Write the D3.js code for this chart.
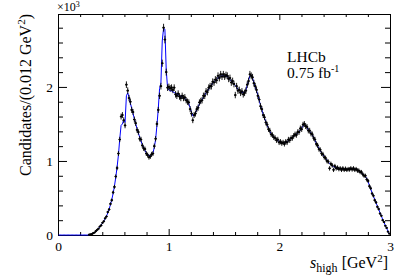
<!DOCTYPE html>
<html>
<head>
<meta charset="utf-8">
<script src="https://cdn.jsdelivr.net/npm/d3@7.9.0/dist/d3.min.js"></script>
<style>
  body { margin: 0; background: #fff; }
  svg text { font-family: "Liberation Serif", "DejaVu Serif", serif; fill: #000; }
</style>
</head>
<body>
<svg id="chart" width="411" height="280"></svg>
<script>
// bins of 0.012 GeV^2 from 0 to 3
const binWidth = 0.012;

// fit model, candidates per bin
const fitValues = [
  0,0,0,0,0,0,0,0,0,0,
  0,0,0,0,0,0,0,0,0,0,
  0,0,0,3,8,14,22,35,50,68,
  88,110,135,160,188,220,255,300,350,410,
  480,560,660,780,920,1080,1300,1480,1500,1560,
  1520,1880,1920,1860,1780,1710,1640,1570,1500,1440,
  1380,1320,1270,1220,1180,1140,1110,1090,1075,1070,
  1080,1110,1180,1290,1480,1700,1980,2050,2620,2790,
  2780,2230,1990,1960,1950,1945,1935,1925,1915,1905,
  1895,1885,1875,1865,1855,1845,1830,1805,1770,1720,
  1660,1610,1610,1650,1690,1730,1770,1800,1830,1860,
  1890,1920,1945,1970,2000,2025,2050,2070,2090,2110,
  2125,2135,2145,2150,2150,2150,2145,2135,2120,2100,
  2080,2060,2040,2020,1995,1970,1950,1935,1925,1920,
  1930,1960,2020,2090,2150,2160,2120,2060,2000,1950,
  1890,1820,1750,1690,1630,1580,1530,1480,1440,1400,
  1370,1345,1325,1305,1290,1275,1265,1255,1250,1245,
  1245,1250,1260,1275,1290,1305,1320,1335,1350,1360,
  1375,1395,1420,1445,1470,1490,1480,1450,1420,1400,
  1380,1350,1320,1280,1240,1200,1170,1140,1110,1085,
  1060,1035,1010,985,965,950,935,925,915,910,
  905,900,895,893,890,888,887,887,888,890,
  892,893,893,890,885,878,868,855,840,825,
  810,790,760,720,670,620,570,525,480,435,
  390,345,300,255,210,170,130,90,50,15
];

// data, candidates per bin
const dataValues = [
  0,0,0,0,0,0,0,0,0,0,
  0,0,0,0,0,0,0,0,0,0,
  0,0,0,4,9,12,25,33,52,70,
  85,115,130,165,185,225,250,310,345,420,
  470,575,650,790,905,1100,1290,1600,1620,1550,
  1480,2030,1950,1850,1800,1690,1660,1560,1510,1420,
  1390,1300,1290,1210,1170,1160,1100,1080,1050,1060,
  1090,1100,1200,1300,1500,1690,1880,2010,2320,2800,
  2640,2200,1990,2000,1980,1990,1960,1990,1900,1880,
  1910,1870,1850,1880,1850,1860,1820,1800,1790,1700,
  1640,1550,1620,1640,1700,1720,1790,1810,1820,1880,
  1880,1940,1930,1990,2010,2010,2070,2060,2100,2090,
  2150,2120,2170,2140,2170,2140,2160,2150,2110,2120,
  2060,2080,2040,1890,2010,1950,1960,1920,1940,1900,
  1920,1950,2030,2080,2170,2150,2130,2050,2010,1960,
  1880,1830,1740,1700,1620,1590,1520,1490,1430,1410,
  1360,1350,1320,1310,1280,1290,1250,1260,1240,1250,
  1230,1260,1250,1290,1280,1310,1310,1340,1360,1350,
  1390,1390,1440,1430,1490,1500,1470,1460,1410,1410,
  1370,1360,1310,1290,1230,1210,1160,1150,1100,1090,
  1050,1040,1000,990,900,960,940,880,930,900,
  910,890,900,880,900,880,895,880,890,885,
  900,885,900,880,890,870,870,850,850,820,
  800,800,750,730,660,630,560,530,470,440,
  380,350,290,260,200,175,125,95,45,18
];

const xMajor = [0, 1, 2, 3];
const xMinor = [0.2, 0.4, 0.6, 0.8, 1.2, 1.4, 1.6, 1.8, 2.2, 2.4, 2.6, 2.8];
const yMajor = [0, 1000, 2000];
const yMinor = [200, 400, 600, 800, 1200, 1400, 1600, 1800, 2200, 2400, 2600, 2800];

const svg = d3.select('#chart');
const padL = 58, padR = 390, padT = 14, padB = 235;

const x = d3.scaleLinear().domain([0, 3]).range([padL, padR]);
const y = d3.scaleLinear().domain([0, 2985]).range([padB, padT]);

const center = (i) => (i + 0.5) * binWidth;

// axes (ticks pointing inwards, ROOT style)
function addAxis(axis, tx, ty, labels) {
  let g = svg.append('g').attr('transform', `translate(${tx},${ty})`).call(axis);
  g.select('.domain').remove();
  g.selectAll('line').attr('stroke', '#000');
  if (!labels) g.selectAll('text').remove();
  return g;
}

let bx = addAxis(d3.axisBottom(x).tickValues(xMajor).tickSize(-6).tickPadding(6).tickFormat(d3.format('d')), 0, padB, true);
bx.selectAll('text').attr('font-size', 13.5).attr('font-family', '"Liberation Serif", serif');
addAxis(d3.axisBottom(x).tickValues(xMinor).tickSize(-3), 0, padB, false);
addAxis(d3.axisTop(x).tickValues(xMajor).tickSize(-6), 0, padT, false);
addAxis(d3.axisTop(x).tickValues(xMinor).tickSize(-3), 0, padT, false);

let ly = addAxis(d3.axisLeft(y).tickValues(yMajor).tickSize(-9).tickPadding(5).tickFormat((d) => d / 1000), padL, 0, true);
ly.selectAll('text').attr('font-size', 13.5).attr('font-family', '"Liberation Serif", serif');
addAxis(d3.axisLeft(y).tickValues(yMinor).tickSize(-5), padL, 0, false);
addAxis(d3.axisRight(y).tickValues(yMajor).tickSize(-9), padR, 0, false);
addAxis(d3.axisRight(y).tickValues(yMinor).tickSize(-5), padR, 0, false);

svg.append('rect')
  .attr('x', padL + 0.5).attr('y', padT + 0.5)
  .attr('width', padR - padL).attr('height', padB - padT)
  .attr('fill', 'none').attr('stroke', '#000').attr('stroke-width', 1);

// fit curve
let fitLine = d3.line()
  .x((d, i) => x(center(i)))
  .y((d) => y(d));
svg.append('path')
  .datum(fitValues)
  .attr('d', fitLine)
  .attr('fill', 'none')
  .attr('stroke', '#0000ff')
  .attr('stroke-width', 1);

// data points with sqrt(N) errors
let pts = dataValues.map((v, i) => ({ s: center(i), v: v })).filter((d) => d.v > 0);
let dg = svg.append('g');
dg.selectAll('line.err')
  .data(pts)
  .join('line')
  .attr('class', 'err')
  .attr('x1', (d) => x(d.s)).attr('x2', (d) => x(d.s))
  .attr('y1', (d) => y(d.v + Math.sqrt(d.v)))
  .attr('y2', (d) => y(d.v - Math.sqrt(d.v)))
  .attr('stroke', '#000').attr('stroke-width', 0.9);
dg.selectAll('line.bin')
  .data(pts)
  .join('line')
  .attr('class', 'bin')
  .attr('x1', (d) => x(d.s - binWidth / 2) - 0.6).attr('x2', (d) => x(d.s + binWidth / 2) + 0.6)
  .attr('y1', (d) => y(d.v)).attr('y2', (d) => y(d.v))
  .attr('stroke', '#000').attr('stroke-width', 0.9);
dg.selectAll('circle')
  .data(pts)
  .join('circle')
  .attr('cx', (d) => x(d.s)).attr('cy', (d) => y(d.v))
  .attr('r', 1.1).attr('fill', '#000');

// texts
let ttl = svg.append('text')
  .attr('transform', `translate(31,${padT}) rotate(-90)`)
  .attr('text-anchor', 'end')
  .attr('font-size', 16);
ttl.append('tspan').text('Candidates/(0.012 GeV');
ttl.append('tspan').attr('font-size', 11).attr('dy', -6).text('2');
ttl.append('tspan').attr('dy', 6).text(')');

let xt = svg.append('text')
  .attr('x', 388).attr('y', 268)
  .attr('text-anchor', 'end')
  .attr('font-size', 16);
xt.append('tspan').attr('font-style', 'italic').text('s');
xt.append('tspan').attr('font-size', 12).attr('dy', 4).text('high');
xt.append('tspan').attr('dy', -4).text(' [GeV');
xt.append('tspan').attr('font-size', 11).attr('dy', -6).text('2');
xt.append('tspan').attr('dy', 6).text(']');

let ex = svg.append('text').attr('x', 57).attr('y', 11).attr('font-size', 12);
ex.append('tspan').text('\u00d710');
ex.append('tspan').attr('font-size', 8).attr('dy', -4).text('3');

svg.append('text').attr('x', 287).attr('y', 62).attr('font-size', 15.5).text('LHCb');
let lumi = svg.append('text').attr('x', 287).attr('y', 78).attr('font-size', 15.5);
lumi.append('tspan').text('0.75 fb');
lumi.append('tspan').attr('font-size', 10).attr('dy', -6).text('-1');
</script>
</body>
</html>
